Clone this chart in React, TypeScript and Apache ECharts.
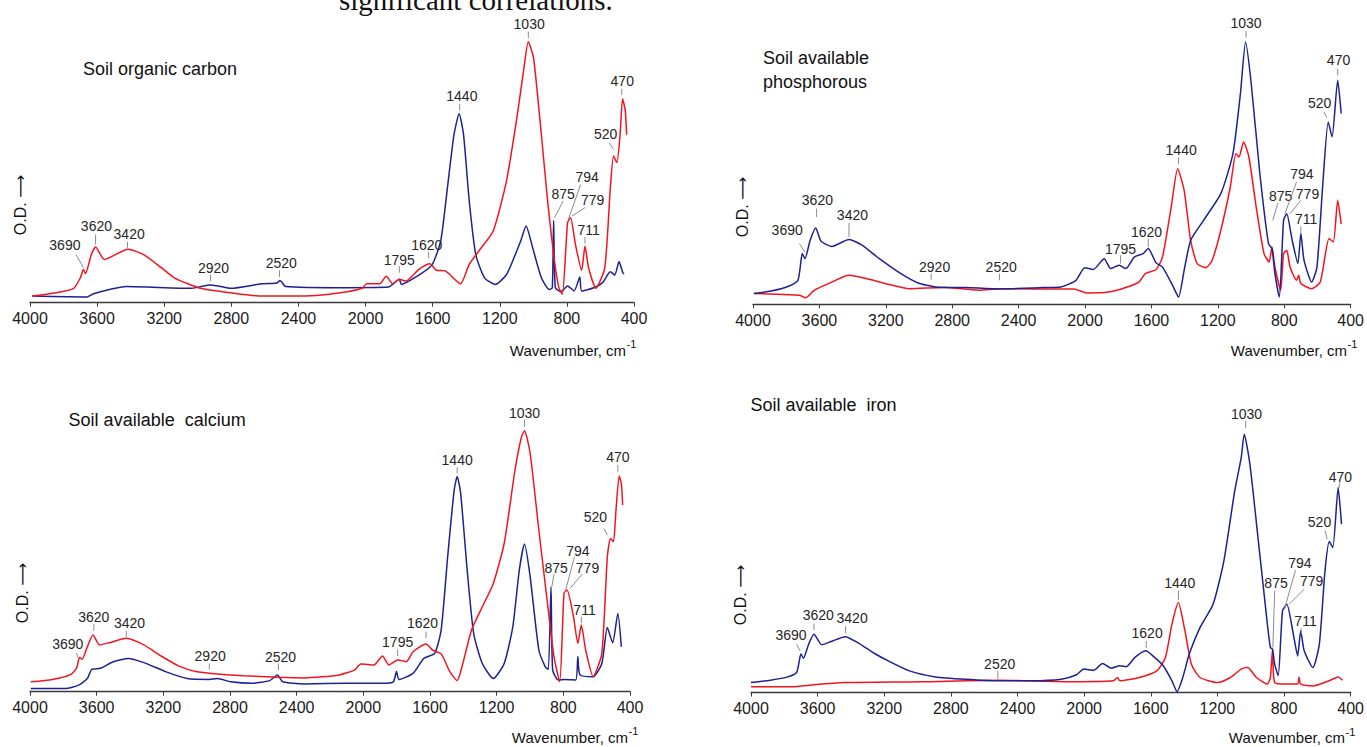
import React, { useEffect, useRef } from 'react';
import * as echarts from 'echarts';

// ---------- axis ----------
const WN_MIN = 400;
const WN_MAX = 4000;
const WN_STEP = 400;

// ---------- titles ----------
const panelTitles = ['Soil organic carbon', 'Soil available\nphosphorous', 'Soil available  calcium', 'Soil available  iron'];
const xAxisTitle = 'Wavenumber, cm';
const xAxisSup = '-1';
const yAxisTitle = 'O.D. \u27F6';
const headingText = 'significant correlations.';

// ---------- Panel 1: Soil organic carbon ----------
const socRed: number[][] = [[3987,2.2],[3844,3.3],[3740,4.8],[3700,8.3],[3682,11.1],[3669,9.7],[3635,16],[3609,18.6],[3557,14.4],[3414,17.8],[3323,16],[3218,11.7],[3140,8.3],[2984,4.8],[2802,3.3],[2619,2.2],[2359,2.2],[2150,3.3],[2020,4.8],[1994,6.3],[1916,6.3],[1877,8.8],[1838,6.3],[1799,7.8],[1760,7.2],[1682,11.1],[1617,13],[1577,10.8],[1525,10.6],[1434,6.3],[1382,12.8],[1317,17.8],[1239,23.9],[1160,40.6],[1095,62.8],[1056,78.3],[1030,87],[999,81.7],[952,56],[913,32.8],[874,13.9],[848,5],[827,2.8],[796,26.7],[778,28.3],[749,19.4],[712,10.8],[692,18.9],[671,11.7],[627,4.8],[574,11.7],[541,38.3],[522,48.9],[502,46.7],[483,56],[468,68],[452,64],[444,56]];
const socBlue: number[][] = [[3987,2.2],[3661,1.9],[3622,3],[3427,5.4],[3036,4.8],[2932,5.9],[2880,5.6],[2802,4.8],[2619,6.3],[2528,6.6],[2510,7.4],[2476,5.4],[2098,5],[1864,5.2],[1799,7.8],[1786,6.1],[1682,9.2],[1604,12.6],[1552,20.6],[1512,38.3],[1473,56],[1442,63],[1416,56],[1382,33.9],[1343,16],[1291,8.3],[1226,6.1],[1160,9.4],[1108,16],[1077,20.3],[1043,25.6],[1004,18.3],[952,8.3],[905,4.4],[887,5],[879,27.4],[869,5],[835,3.7],[796,5.6],[757,3.9],[723,8.6],[712,3.9],[640,5],[587,6.7],[541,10.3],[515,9.2],[489,13.7],[463,9.7],[458,9.7]];
// [label, labelWn, labelOD, leaderStartWn, leaderStartOD, leaderEndWn, leaderEndOD]
const socPeaks: any[][] = [
  ['3690',3792,19.2,3726,16.1,3682,11.7],['3620',3604,25.6,3609,22.8,3609,19.4],['3420',3409,22.8,3419,20.3,3419,18.3],
  ['2920',2906,11.7,2924,9.4,2924,7.2],['2520',2502,13.1,2513,10.8,2513,8.6],['1795',1799,14.4,1799,12.2,1799,10],
  ['1620',1635,19.4,1624,17,1624,14.8],['1440',1426,68.9,1439,66.3,1439,64.1],['1030',1025,93,1030,90.3,1030,88.1],
  ['875',822,36.1,822,33.9,874,28.3],['794',679,42,718,39.4,791,27.8],['779',647,34.2,692,31.7,770,28.9],
  ['711',671,24.3,692,21.9,692,19.7],['520',569,56.3,548,53.3,522,51.1],['470',470,73.9,473,71.4,473,69.2]];

// ---------- Panel 2: Soil available phosphorous ----------
const phBlue: number[][] = [[3995,3.6],[3891,4.4],[3786,6],[3729,8],[3703,16.9],[3687,15.2],[3656,21.3],[3622,25.4],[3591,21.1],[3526,19.3],[3422,21.6],[3344,19.7],[3239,15.2],[3109,10.2],[3005,7.1],[2901,5.8],[2718,5.6],[2510,5.1],[2249,5.6],[2145,5.8],[2054,8],[2002,12.2],[1950,11.6],[1885,15.2],[1846,11.9],[1794,13],[1755,11.9],[1702,15.8],[1650,16.9],[1619,18.6],[1572,13.8],[1533,12.4],[1468,5.8],[1437,2.4],[1403,11.3],[1364,21.3],[1286,28],[1182,36.9],[1109,50.2],[1064,70.2],[1033,87.4],[999,73.6],[947,43.6],[895,20.2],[874,18.6],[856,10.2],[830,2.4],[804,28],[785,30.2],[752,21.3],[718,13.6],[700,23.6],[681,14.7],[635,7.4],[603,12.4],[569,39.1],[535,60.8],[512,55.8],[478,74.7],[457,63.6]];
const phRed: number[][] = [[3995,3.6],[3812,3.3],[3721,3],[3682,2.2],[3630,4.7],[3526,7.4],[3422,9.7],[3318,8.6],[3187,6.7],[3057,5.2],[2849,5.6],[2640,4.7],[2510,5.2],[2328,5.1],[2067,5.1],[1989,3.8],[1859,4.1],[1755,5.6],[1676,7.4],[1637,10.2],[1572,11.6],[1533,15.8],[1481,32.4],[1442,45.2],[1403,38],[1364,21.3],[1325,13.6],[1273,12.2],[1234,14.7],[1182,24.7],[1125,39.1],[1091,50.2],[1073,49.1],[1045,54.1],[1013,49.1],[969,32.4],[922,16.9],[891,14.1],[874,19.1],[856,12.4],[822,4.7],[804,16.9],[785,18],[765,12.4],[726,8],[713,9.7],[700,6.9],[635,5.2],[583,7.4],[530,21.9],[504,20.8],[478,34.7],[457,26.7]];
const phPeaks: any[][] = [
  ['3690',3794,24.7,3721,20.2,3687,17.4],['3620',3612,34.7,3617,31.9,3617,29.1],['3420',3401,29.7,3422,27.1,3422,22.4],
  ['2920',2906,12.4,2927,10.2,2927,8.2],['2520',2505,12.4,2515,10.2,2515,8],['1795',1786,18.6,1786,16.3,1786,13.6],
  ['1620',1630,24.1,1619,21.9,1619,19.1],['1440',1421,51.6,1437,48.9,1437,46.7],['1030',1030,93.8,1030,91.1,1030,88.9],
  ['875',822,36.1,838,33.8,869,28],['794',694,43.3,726,40.8,796,30.2],['779',660,36.9,700,34.7,765,30.2],
  ['711',668,28.3,700,26,700,23.6],['520',587,67.1,561,64.1,543,62.2],['470',473,81.3,478,78.6,478,76.3]];

// ---------- Panel 3: Soil available calcium ----------
const caRed: number[][] = [[3995,3.3],[3865,4.1],[3760,5.6],[3721,7.8],[3703,11.4],[3687,10.8],[3656,15],[3622,18.9],[3583,15.6],[3526,16.3],[3422,17.8],[3317,15.6],[3213,11.9],[3109,8.6],[3005,6.7],[2875,5.9],[2718,5.3],[2510,4.8],[2354,4.6],[2145,5.6],[2054,7.2],[2015,9.2],[1937,8.9],[1885,11.9],[1846,8.9],[1794,10.6],[1742,10],[1702,13.3],[1624,15.9],[1585,13.9],[1533,12.6],[1481,6.7],[1437,3.7],[1403,9.4],[1351,20.6],[1286,28.3],[1220,36.1],[1155,49.4],[1090,73.9],[1051,85],[1033,87],[999,79.4],[947,53.9],[895,29.4],[856,11.7],[822,3.3],[796,32.8],[778,33.9],[739,25],[713,16.1],[692,22.2],[666,13.9],[621,5],[569,12.8],[536,45],[517,51.1],[499,50],[484,60.6],[465,71.9],[452,69.4],[444,62.2]];
const caBlue: number[][] = [[3995,1.1],[3786,1.1],[3708,2.2],[3656,4.4],[3630,7.4],[3578,7.8],[3500,10],[3409,11.1],[3317,9.7],[3187,6.7],[3057,4.4],[2927,4.1],[2875,4.4],[2796,3.3],[2666,2.8],[2562,3.7],[2515,5.6],[2484,3.3],[2354,2.6],[2093,2.8],[1885,2.8],[1820,3.3],[1801,6.7],[1786,4.1],[1702,6.1],[1637,11.1],[1572,12.8],[1533,20.6],[1494,45],[1455,67.2],[1437,71.7],[1416,66.1],[1377,40.6],[1338,19.4],[1286,9.4],[1220,4.4],[1155,9.4],[1103,21.7],[1064,40.6],[1033,49.2],[999,38.3],[947,13.9],[908,8.3],[890,7.4],[874,35],[864,7.2],[830,3.9],[791,4.1],[726,3.9],[713,11.7],[700,5.6],[621,5],[569,9.4],[536,21.4],[504,16.3],[473,26.1],[452,15]];
const caPeaks: any[][] = [
  ['3690',3773,15.9,3721,13,3713,11.4],['3620',3617,25,3617,22.6,3617,20.3],['3420',3403,22.8,3422,20.3,3422,18.3],
  ['2920',2919,11.9,2924,9.4,2924,7.4],['2520',2497,11.7,2510,9.4,2510,7.2],['1795',1794,16.7,1794,14.1,1794,11.9],
  ['1620',1645,22.8,1624,20,1624,17.8],['1440',1437,77.4,1437,74.8,1437,72.8],['1030',1033,93,1033,90.6,1033,88.3],
  ['875',843,41.4,856,39.2,869,35],['794',713,47,734,44.8,786,33.9],['779',655,41.4,687,39.2,760,34.4],
  ['711',673,27.4,692,25,692,22.8],['520',608,58.3,556,54.4,536,52.2],['470',473,78.1,473,75.6,473,73.3]];

// ---------- Panel 4: Soil available iron ----------
const feBlue: number[][] = [[4000,3.3],[3883,4.1],[3779,5.2],[3726,6.7],[3700,12.8],[3685,11.4],[3654,16.1],[3622,19.4],[3575,15.9],[3518,17],[3435,18.6],[3362,16.7],[3258,13],[3179,10.6],[3049,7.2],[2893,5.2],[2711,4.4],[2515,3.9],[2320,3.9],[2137,4.4],[2046,5.9],[2002,7.8],[1942,7.4],[1890,9.7],[1838,8.1],[1786,8.9],[1747,8.6],[1695,11.7],[1630,13.9],[1577,11.7],[1525,8.9],[1473,3.9],[1442,0.3],[1408,5],[1369,12.8],[1304,21.7],[1226,29.4],[1161,43.9],[1096,67.2],[1057,78.3],[1039,86.1],[1005,76.1],[952,49.4],[900,22.8],[882,15],[869,14.4],[856,9.4],[835,5.6],[809,27.2],[783,29.4],[744,19.4],[718,12.2],[700,20.6],[679,13.9],[627,8.3],[588,16.1],[554,40.6],[528,50.3],[507,48.3],[475,68.3],[455,56.1]];
const feRed: number[][] = [[4000,1.9],[3753,1.9],[3622,2.6],[3440,3.3],[2971,3.6],[2515,4.1],[2059,3.6],[1825,3.9],[1799,5],[1786,3.9],[1669,5],[1564,7.2],[1512,11.7],[1473,22.8],[1434,30],[1395,20.6],[1356,9.4],[1304,5],[1200,3.3],[1122,5],[1057,7.8],[1018,8.3],[966,5],[900,2.8],[882,5],[869,14.4],[856,3.3],[783,2.8],[718,2.8],[710,5.2],[700,2.8],[627,2.2],[522,4.1],[475,5.2],[449,4.1]];
const fePeaks: any[][] = [
  ['3690',3760,19.1,3726,16.1,3706,13.9],['3620',3596,25.9,3622,23,3622,20.8],['3420',3393,24.7,3432,22.1,3432,19.7],
  ['2520',2507,9.4,2518,7.2,2518,4.4],['1620',1622,19.8,1627,17.2,1627,14.8],['1440',1426,36.4,1434,33.9,1434,30.8],
  ['1030',1025,93,1030,90.6,1030,88.1],['875',848,36.4,856,33.9,867,15],['794',705,43.3,731,40.8,796,28.1],
  ['779',634,37.2,679,34.4,770,29.4],['711',671,23.9,697,21.4,697,19.4],['520',587,57,553,53.9,541,51.1],
  ['470',462,71.9,468,70,468,68.3]];

const RED = '#f5141e';
const BLUE = '#1c2290';
const FONT = 'Liberation Sans, Arial, sans-serif';

// grid layout in px: [left, top, width, height]
const GRIDS = [
  [30, 2.7, 604, 300],
  [753, 4.3, 602, 300],
  [30, 391.7, 600, 300],
  [751, 392.5, 602.3, 300],
];

function annSeries(idx: number, anns: any[][]) {
  return {
    type: 'custom',
    xAxisIndex: idx,
    yAxisIndex: idx,
    clip: false,
    silent: true,
    z: 5,
    encode: { x: 0, y: 1 },
    data: anns.map((a) => [a[1], a[2], a[3], a[4], a[5], a[6]]),
    renderItem: (params: any, api: any) => {
      const a = anns[params.dataIndex];
      const p = api.coord([api.value(0), api.value(1)]);
      const s = api.coord([api.value(2), api.value(3)]);
      const e = api.coord([api.value(4), api.value(5)]);
      return {
        type: 'group',
        children: [
          { type: 'line', shape: { x1: s[0], y1: s[1], x2: e[0], y2: e[1] }, style: { stroke: '#8c8c8c', lineWidth: 1 } },
          { type: 'text', x: p[0], y: p[1], style: { text: a[0], align: 'center', verticalAlign: 'middle', fontSize: 14, fontFamily: FONT, fill: '#262626' } },
        ],
      };
    },
  };
}

function lineSeries(idx: number, data: number[][], color: string, z: number) {
  return {
    type: 'line',
    xAxisIndex: idx,
    yAxisIndex: idx,
    data,
    showSymbol: false,
    smooth: 0.2,
    z,
    lineStyle: { color, width: 1.5 },
    itemStyle: { color },
  };
}

export default function App() {
  const ref = useRef<HTMLDivElement>(null);
  useEffect(() => {
    if (!ref.current) return;
    const chart = echarts.init(ref.current, undefined, { renderer: 'svg' });

    const grid = GRIDS.map((g) => ({ left: g[0], top: g[1], width: g[2], height: g[3] }));
    const xAxis = GRIDS.map((_, i) => ({
      type: 'value',
      gridIndex: i,
      min: WN_MIN,
      max: WN_MAX,
      interval: WN_STEP,
      inverse: true,
      splitLine: { show: false },
      axisLine: { lineStyle: { color: '#3a3a3a', width: 1.3 } },
      axisTick: { show: true, length: 4, lineStyle: { color: '#3a3a3a' } },
      axisLabel: { fontSize: 16, fontFamily: FONT, color: '#1a1a1a', margin: 8, formatter: (v: number) => String(v) },
    }));
    const yAxis = GRIDS.map((_, i) => ({ type: 'value', gridIndex: i, min: 0, max: 100, show: false }));

    const series: any[] = [
      lineSeries(0, socBlue, BLUE, 2), lineSeries(0, socRed, RED, 3), annSeries(0, socPeaks),
      lineSeries(1, phRed, RED, 2), lineSeries(1, phBlue, BLUE, 3), annSeries(1, phPeaks),
      lineSeries(2, caBlue, BLUE, 2), lineSeries(2, caRed, RED, 3), annSeries(2, caPeaks),
      lineSeries(3, feRed, RED, 2), lineSeries(3, feBlue, BLUE, 3), annSeries(3, fePeaks),
    ];

    const titleStyle = { fontSize: 18, fontFamily: FONT, fill: '#111', verticalAlign: 'middle' as const };
    const odStyle = { text: yAxisTitle, fontSize: 16, fontFamily: 'Liberation Sans, DejaVu Sans, sans-serif', fill: '#111', align: 'center' as const, verticalAlign: 'middle' as const };
    const wnLabels = [[626, 350], [1347, 350], [628, 737], [1345, 737.5]];

    const graphic: any[] = [
      { type: 'text', x: 339, y: 0, style: { text: headingText, fontSize: 29, fontFamily: 'Liberation Serif, serif', fill: '#111', verticalAlign: 'middle' } },
      { type: 'text', x: 83, y: 69, style: { ...titleStyle, text: panelTitles[0] } },
      { type: 'text', x: 763, y: 70, style: { ...titleStyle, text: panelTitles[1], lineHeight: 24 } },
      { type: 'text', x: 68.6, y: 420, style: { ...titleStyle, text: panelTitles[2] } },
      { type: 'text', x: 750.5, y: 405, style: { ...titleStyle, text: panelTitles[3] } },
      { type: 'text', x: 20, y: 205, rotation: Math.PI / 2, style: odStyle },
      { type: 'text', x: 742, y: 207, rotation: Math.PI / 2, style: odStyle },
      { type: 'text', x: 22, y: 593, rotation: Math.PI / 2, style: odStyle },
      { type: 'text', x: 740, y: 595, rotation: Math.PI / 2, style: odStyle },
    ];
    wnLabels.forEach(([x, y]) => {
      graphic.push({ type: 'text', x, y, style: { text: xAxisTitle, fontSize: 15, fontFamily: FONT, fill: '#111', align: 'right', verticalAlign: 'middle' } });
      graphic.push({ type: 'text', x: x + 0.5, y: y - 6, style: { text: xAxisSup, fontSize: 11, fontFamily: FONT, fill: '#111', align: 'left', verticalAlign: 'middle' } });
    });

    chart.setOption({
      animation: false,
      backgroundColor: '#ffffff',
      grid,
      xAxis,
      yAxis,
      series,
      graphic,
    });
    return () => chart.dispose();
  }, []);

  return <div ref={ref} style={{ position: 'absolute', left: 0, top: 0, width: 1367, height: 747 }} />;
}
